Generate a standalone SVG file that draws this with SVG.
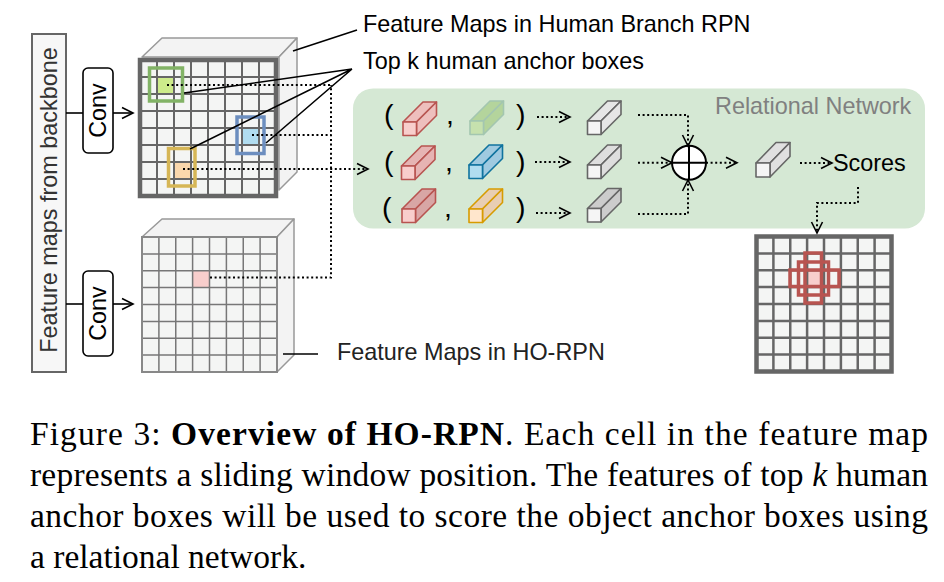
<svg xmlns="http://www.w3.org/2000/svg" width="944" height="582" viewBox="0 0 944 582">
<style>
.lbl{font-family:"Liberation Sans",Arial,sans-serif;font-size:23.4px;fill:#000}
.par{font-family:"Liberation Sans",Arial,sans-serif;font-size:28.5px;fill:#000}
.cap{font-family:"Liberation Serif","Times New Roman",serif;font-size:33.5px;fill:#000}
.dot{fill:none;stroke:#000;stroke-width:2;stroke-dasharray:2 2.6}
.sol{fill:none;stroke:#000;stroke-width:1.6}
.cube3d{fill:#f3f3f3;stroke:#999;stroke-width:1.5;stroke-linejoin:round}
.gridT{fill:none;stroke:#666;stroke-width:2}
.gridB{fill:none;stroke:#777;stroke-width:1.5}
.cb{stroke-width:1.6;stroke-linejoin:round}
</style>
<defs>
<marker id="ah" markerWidth="14" markerHeight="14" refX="12" refY="7" orient="auto" markerUnits="userSpaceOnUse">
<path d="M1,1.5 L12,7 L1,12.5" fill="none" stroke="#000" stroke-width="1.6"/>
</marker>
</defs>

<g id="backbone">
<rect x="32" y="34" width="34" height="338" fill="#f7f7f7" stroke="#666" stroke-width="2"/>
<text class="lbl" style="fill:#333" x="57" y="200" text-anchor="middle" transform="rotate(-90 57 200)">Feature maps from backbone</text>
</g>

<g id="conv-top">
<rect x="83" y="68" width="30" height="85" rx="5" fill="#fff" stroke="#000" stroke-width="1.6"/>
<text class="lbl" x="106" y="110.5" text-anchor="middle" transform="rotate(-90 106 110.5)">Conv</text>
</g>
<g id="conv-bottom">
<rect x="83" y="271" width="30" height="85" rx="5" fill="#fff" stroke="#000" stroke-width="1.6"/>
<text class="lbl" x="106" y="313.5" text-anchor="middle" transform="rotate(-90 106 313.5)">Conv</text>
</g>

<g id="fm-human">
<polygon class="cube3d" points="142,57 162,38 297,38 279,57"/>
<polygon class="cube3d" points="279,57 297,38 297,172 279,190"/>
<rect x="140" y="60" width="136" height="136" fill="#f4f5f4"/>
<rect x="157" y="77" width="17" height="17" fill="#cdeb8b"/>
<rect x="242" y="128" width="17" height="17" fill="#b1ddf0"/>
<rect x="174" y="162" width="17" height="17" fill="#fad7ac"/>
<path class="gridT" d="M157,60V196M174,60V196M191,60V196M208,60V196M225,60V196M242,60V196M259,60V196M140,77H276M140,94H276M140,111H276M140,128H276M140,145H276M140,162H276M140,179H276"/>
<rect x="140" y="60" width="136" height="136" fill="none" stroke="#666" stroke-width="4.5"/>
<rect x="149.5" y="68" width="33" height="33" fill="none" stroke="#82b366" stroke-width="3.5"/>
<rect x="237" y="117" width="27" height="36.5" fill="none" stroke="#6c8ebf" stroke-width="3.5"/>
<rect x="168.5" y="148.5" width="26.5" height="37.5" fill="none" stroke="#d6b656" stroke-width="3.5"/>
</g>

<g id="fm-horpn">
<polygon class="cube3d" points="142,237 162,219 294,219 277,237"/>
<polygon class="cube3d" points="277,237 294,219 294,355 277,372"/>
<rect x="142" y="237" width="135" height="135" fill="#f4f5f4"/>
<rect x="192.6" y="270.75" width="16.9" height="16.9" fill="#f8cecc"/>
<path class="gridB" d="M158.9,237V372M175.75,237V372M192.6,237V372M209.5,237V372M226.4,237V372M243.25,237V372M260.1,237V372M142,253.9H277M142,270.75H277M142,287.6H277M142,304.5H277M142,321.4H277M142,338.25H277M142,355.1H277"/>
<rect x="142" y="237" width="135" height="135" fill="none" stroke="#888" stroke-width="2"/>
</g>

<g id="relational-network">
<rect x="353" y="88.5" width="572" height="140" rx="20" fill="#d5e8d4"/>
<text class="lbl" style="fill:#808080" x="715" y="114">Relational Network</text>

<text class="par" x="384" y="124">(</text>
<text class="par" x="446" y="124">,</text>
<text class="par" x="516" y="124">)</text>
<text class="par" x="384" y="171">(</text>
<text class="par" x="445" y="171">,</text>
<text class="par" x="516" y="171">)</text>
<text class="par" x="382" y="217">(</text>
<text class="par" x="444" y="217">,</text>
<text class="par" x="516" y="217">)</text>

<g class="cb" stroke="#b85450">
<polygon points="403,122 423,102 436.5,102 416.5,122" fill="#eebfbd"/>
<polygon points="416.5,122 436.5,102 436.5,115.5 416.5,135.5" fill="#eebfbd"/>
<rect x="403" y="122" width="13.5" height="13.5" fill="#f8cecc"/>
</g>
<g class="cb" stroke="#a3c6b0">
<polygon points="470,121 490,101 503.5,101 483.5,121" fill="#b4d49c"/>
<polygon points="483.5,121 503.5,101 503.5,114.5 483.5,134.5" fill="#b4d49c"/>
<rect x="470" y="121" width="13.5" height="13.5" fill="#c6e1ae"/>
</g>
<g class="cb" stroke="#b85450">
<polygon points="401.5,166 421.5,146 435,146 415,166" fill="#e6b4b3"/>
<polygon points="415,166 435,146 435,159.5 415,179.5" fill="#e6b4b3"/>
<rect x="401.5" y="166" width="13.5" height="13.5" fill="#f8cecc"/>
</g>
<g class="cb" stroke="#10739e">
<polygon points="469,165 489,145 502.5,145 482.5,165" fill="#9fcae0"/>
<polygon points="482.5,165 502.5,145 502.5,158.5 482.5,178.5" fill="#9fcae0"/>
<rect x="469" y="165" width="13.5" height="13.5" fill="#b1ddf0"/>
</g>
<g class="cb" stroke="#b85450">
<polygon points="402,209 422,189 435.5,189 415.5,209" fill="#d8a6a5"/>
<polygon points="415.5,209 435.5,189 435.5,202.5 415.5,222.5" fill="#d8a6a5"/>
<rect x="402" y="209" width="13.5" height="13.5" fill="#f8cecc"/>
</g>
<g class="cb" stroke="#d79b00">
<polygon points="469,209 489,189 502.5,189 482.5,209" fill="#e8ceb3"/>
<polygon points="482.5,209 502.5,189 502.5,202.5 482.5,222.5" fill="#e8ceb3"/>
<rect x="469" y="209" width="13.5" height="13.5" fill="#ffe6cc"/>
</g>
<g class="cb" stroke="#666">
<polygon points="587.5,121 607.5,101 621,101 601,121" fill="#e6e6e6"/>
<polygon points="601,121 621,101 621,114.5 601,134.5" fill="#e6e6e6"/>
<rect x="587.5" y="121" width="13.5" height="13.5" fill="#f5f5f5"/>
<polygon points="587.5,165 607.5,145 621,145 601,165" fill="#dedede"/>
<polygon points="601,165 621,145 621,158.5 601,178.5" fill="#dedede"/>
<rect x="587.5" y="165" width="13.5" height="13.5" fill="#f5f5f5"/>
<polygon points="587.5,208.5 607.5,188.5 621,188.5 601,208.5" fill="#cccccc"/>
<polygon points="601,208.5 621,188.5 621,202 601,222" fill="#cccccc"/>
<rect x="587.5" y="208.5" width="13.5" height="13.5" fill="#f5f5f5"/>
<polygon points="756,163 776,142.5 790,142.5 770,163" fill="#e0e0e0"/>
<polygon points="770,163 790,142.5 790,156.5 770,177" fill="#e0e0e0"/>
<rect x="756" y="163" width="14" height="14" fill="#f5f5f5"/>
</g>
<g id="oplus">
<circle cx="689" cy="162.7" r="17" fill="#fff" stroke="#000" stroke-width="2"/>
<path d="M672,162.7H706M689,145.7V179.7" stroke="#000" stroke-width="2"/>
</g>
<text class="lbl" x="833" y="171">Scores</text>
</g>

<g id="score-map">
<rect x="756.5" y="236.5" width="135" height="135" fill="#f4f5f4"/>
<rect x="807.1" y="270.25" width="16.9" height="16.9" fill="#f8cecc"/>
<path fill="none" stroke="#666" stroke-width="2.5" d="M773.4,236.5V371.5M790.25,236.5V371.5M807.1,236.5V371.5M824,236.5V371.5M840.9,236.5V371.5M857.75,236.5V371.5M874.6,236.5V371.5M756.5,253.4H891.5M756.5,270.25H891.5M756.5,287.1H891.5M756.5,304H891.5M756.5,320.9H891.5M756.5,337.75H891.5M756.5,354.6H891.5"/>
<rect x="756.5" y="236.5" width="135" height="135" fill="none" stroke="#666" stroke-width="4.5"/>
<g fill="none" stroke="#b85450" stroke-width="3.5">
<rect x="790" y="270" width="49" height="16.5"/>
<rect x="805" y="253" width="16.5" height="50"/>
<rect x="798.5" y="262" width="30" height="33"/>
</g>
</g>

<g id="labels">
<text class="lbl" x="363" y="32">Feature Maps in Human Branch RPN</text>
<text class="lbl" x="363" y="69">Top k human anchor boxes</text>
<text class="lbl" style="fill:#222" x="337" y="360">Feature Maps in HO-RPN</text>
</g>

<g id="connectors">
<path class="sol" d="M66,113H83"/>
<path class="sol" d="M113,113H133" marker-end="url(#ah)"/>
<path class="sol" d="M66,304H83"/>
<path class="sol" d="M113,304H133" marker-end="url(#ah)"/>
<path class="sol" d="M293,51L357,30"/>
<path class="sol" d="M352,69L184,93M352,69L190,149M352,69L266,143"/>
<path class="sol" d="M283,354H318"/>
<path class="dot" d="M167,85H331"/>
<path class="dot" d="M252,135H331"/>
<path class="dot" d="M210,277.5H331V85"/>
<path class="dot" d="M183,169H368" marker-end="url(#ah)"/>
<path class="dot" d="M537,117H570" marker-end="url(#ah)"/>
<path class="dot" d="M535,162H570" marker-end="url(#ah)"/>
<path class="dot" d="M536,213H570" marker-end="url(#ah)"/>
<path class="dot" d="M638,115H688V146" marker-end="url(#ah)"/>
<path class="dot" d="M638,162.7H672" marker-end="url(#ah)"/>
<path class="dot" d="M638,214H688V180" marker-end="url(#ah)"/>
<path class="dot" d="M706,162.7H737" marker-end="url(#ah)"/>
<path class="dot" d="M800,163H832" marker-end="url(#ah)"/>
<path class="dot" d="M858,187V203H817V233" marker-end="url(#ah)"/>
</g>

<g id="caption">
<text class="cap" x="30" y="445" textLength="898" lengthAdjust="spacing">Figure 3:  <tspan font-weight="bold">Overview of HO-RPN</tspan>. Each cell in the feature map</text>
<text class="cap" x="30" y="486" textLength="898" lengthAdjust="spacing">represents a sliding window position. The features of top <tspan font-style="italic">k</tspan> human</text>
<text class="cap" x="30" y="527" textLength="898" lengthAdjust="spacing">anchor boxes will be used to score the object anchor boxes using</text>
<text class="cap" x="30" y="568">a relational network.</text>
</g>
</svg>
